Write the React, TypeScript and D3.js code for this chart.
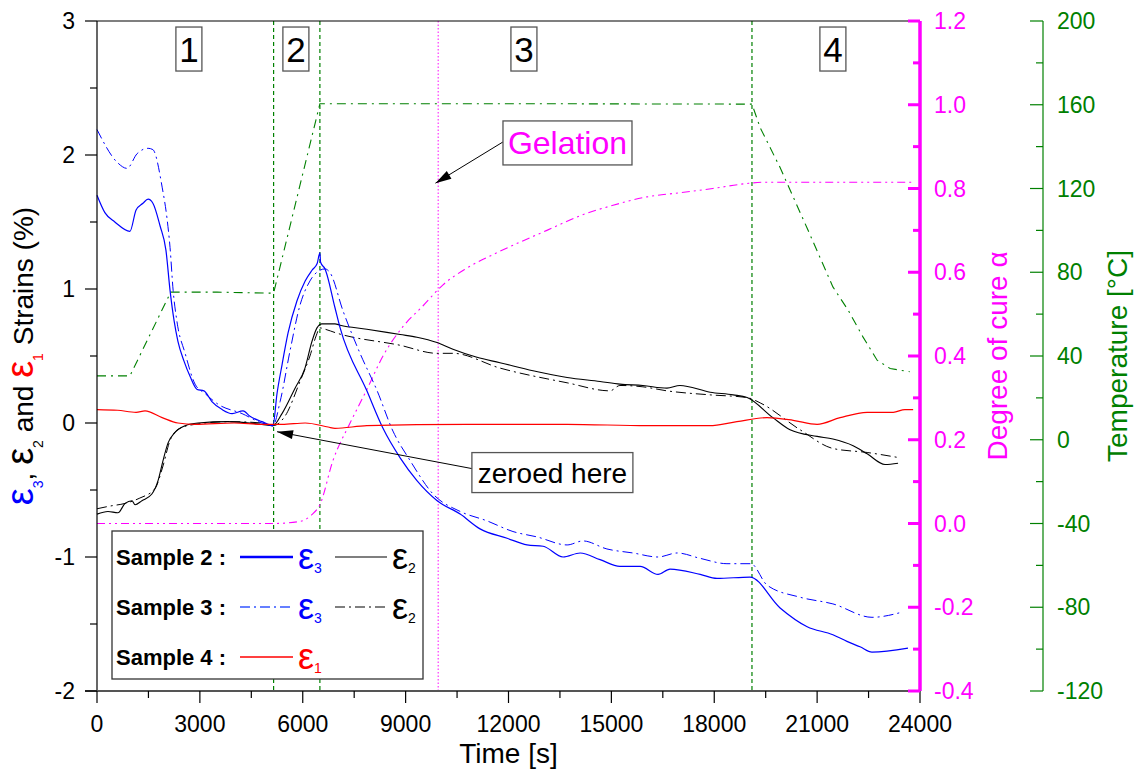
import React from 'react';
import * as d3 from 'd3';

type P = [number, number];

// ---------- ticks ----------
const timeTicks = [0, 3000, 6000, 9000, 12000, 15000, 18000, 21000, 24000];
const strainTicks = [-2, -1, 0, 1, 2, 3];
const cureTicks = [-0.4, -0.2, 0.0, 0.2, 0.4, 0.6, 0.8, 1.0, 1.2];
const tempTicks = [-120, -80, -40, 0, 40, 80, 120, 160, 200];

// ---------- data (time [s], value) ----------
const s2eps3: P[] = [
  [0, 1.70], [230, 1.57], [520, 1.50], [960, 1.43], [1140, 1.59], [1340, 1.64], [1490, 1.67],
  [1630, 1.64], [1840, 1.47], [2010, 1.29], [2130, 0.99], [2250, 0.76], [2360, 0.61], [2540, 0.46],
  [2710, 0.35], [2920, 0.25], [3120, 0.24], [3350, 0.16], [3650, 0.10], [3940, 0.07], [4260, 0.09],
  [4460, 0.05], [4810, 0.01], [5130, -0.02], [5250, 0.22], [5400, 0.44], [5570, 0.67], [5830, 0.91],
  [6070, 1.06], [6270, 1.14], [6420, 1.19], [6500, 1.27], [6520, 1.20], [6650, 1.15], [6940, 0.86],
  [7090, 0.71], [7870, 0.24], [8340, -0.04], [8840, -0.26], [9330, -0.43], [9920, -0.58],
  [10590, -0.68], [11170, -0.79], [11960, -0.86], [12540, -0.91], [13010, -0.92], [13590, -1.00],
  [14090, -0.97], [14670, -1.02], [15250, -1.07], [15840, -1.07], [16360, -1.13], [16710, -1.09],
  [17590, -1.13], [18080, -1.16], [19040, -1.15], [19920, -1.38], [20710, -1.52], [21460, -1.58],
  [21870, -1.63], [22250, -1.67], [22600, -1.71], [23650, -1.68],
];
const s3eps3: P[] = [
  [0, 2.19], [610, 1.94], [875, 1.90], [1170, 2.01], [1490, 2.05], [1630, 2.04], [1900, 1.76],
  [2040, 1.53], [2130, 1.31], [2220, 0.99], [2330, 0.76], [2570, 0.52], [2860, 0.29], [3150, 0.22],
  [3530, 0.14], [4230, 0.07], [4810, 0.00], [5130, -0.02], [5340, 0.16], [5630, 0.54], [5920, 0.88],
  [6210, 1.06], [6500, 1.14], [6650, 1.15], [6800, 1.12], [7170, 0.84], [7670, 0.52], [8170, 0.24],
  [8630, -0.06], [9130, -0.28], [9800, -0.53], [10590, -0.66], [11370, -0.73], [12130, -0.81],
  [12830, -0.85], [13710, -0.91], [14170, -0.88], [14870, -0.94], [15630, -0.97], [16360, -1.00],
  [16920, -0.97], [17590, -1.01], [18370, -1.05], [19070, -1.05], [19540, -1.21], [20500, -1.30],
  [21460, -1.35], [22600, -1.45], [23500, -1.41],
];
const s2eps2: P[] = [
  [0, -0.68], [320, -0.66], [610, -0.67], [820, -0.60], [1020, -0.58], [1110, -0.61], [1310, -0.58],
  [1600, -0.53], [1780, -0.43], [1925, -0.28], [2070, -0.15], [2275, -0.07], [2570, -0.02],
  [2945, 0.00], [3820, 0.01], [4810, -0.01], [5130, -0.02], [5395, 0.07], [5775, 0.26], [6065, 0.41],
  [6270, 0.61], [6415, 0.71], [6560, 0.74], [6940, 0.74], [7090, 0.73], [7870, 0.70], [8840, 0.66],
  [9330, 0.64], [9915, 0.60], [10380, 0.55], [11080, 0.49], [11750, 0.45], [12715, 0.39],
  [13710, 0.34], [14670, 0.31], [15250, 0.29], [15920, 0.28], [16620, 0.26], [17000, 0.28],
  [17880, 0.23], [18550, 0.21], [18960, 0.19], [19710, 0.04], [20210, -0.05], [21000, -0.10],
  [21460, -0.12], [22050, -0.17], [22460, -0.23], [22980, -0.31], [23360, -0.30],
];
const s3eps2: P[] = [
  [0, -0.64], [380, -0.62], [820, -0.60], [1250, -0.56], [1690, -0.49], [1925, -0.32], [2130, -0.13],
  [2420, -0.04], [2860, -0.01], [3880, 0.01], [4810, 0.00], [5130, -0.02], [5480, 0.05], [5920, 0.31],
  [6210, 0.50], [6390, 0.65], [6500, 0.71], [6650, 0.70], [7000, 0.67], [8840, 0.58], [9915, 0.52],
  [10380, 0.52], [11750, 0.41], [13710, 0.30], [14960, 0.24], [15250, 0.28], [15920, 0.27],
  [16620, 0.24], [17880, 0.21], [18960, 0.19], [19340, 0.15], [20500, -0.05], [21460, -0.19],
  [22460, -0.22], [23420, -0.26],
];
const s4eps1: P[] = [
  [0, 0.10], [600, 0.095], [1140, 0.08], [1400, 0.09], [1900, 0.04], [2360, 0.00], [2860, -0.01],
  [4000, 0.00], [4810, -0.01], [5400, -0.01], [6070, 0.00], [6740, -0.03], [6940, -0.04],
  [7870, -0.02], [10790, -0.01], [13710, -0.01], [16040, -0.02], [17860, -0.02], [18660, 0.01],
  [19540, 0.04], [20300, 0.02], [21000, -0.01], [21670, 0.04], [22460, 0.08], [23220, 0.08],
  [23560, 0.10], [23800, 0.10],
];
const temperature: P[] = [
  [0, 30.5], [960, 30.5], [2150, 70.5], [3500, 70.5], [5150, 70], [6500, 160.5], [12000, 160.5],
  [19100, 160.3], [19340, 149], [19920, 130], [20710, 101], [21460, 73], [21900, 62], [22340, 49],
  [22750, 38], [23130, 34], [23700, 32.5],
];
const cure: P[] = [
  [0, 0.0], [5130, 0.0], [5920, 0.005], [6250, 0.02], [6500, 0.045], [6880, 0.15], [7380, 0.24],
  [7870, 0.32], [8340, 0.40], [8920, 0.47], [9510, 0.52], [10090, 0.57], [10790, 0.61],
  [11750, 0.65], [13120, 0.70], [14090, 0.735], [15050, 0.76], [16040, 0.78], [17000, 0.79],
  [17960, 0.80], [18960, 0.812], [19500, 0.815], [23800, 0.815],
];

const phaseLines = [5150, 6500, 19100];
const gelationTime = 9950;
const phaseLabels = [
  { label: '1', t: 2680 },
  { label: '2', t: 5800 },
  { label: '3', t: 12450 },
  { label: '4', t: 21460 },
];

// ---------- layout ----------
const W = 1134, H = 772;
const left = 97, right = 920, top = 21, bottom = 691;
const tempAxisX = 1043;
const FONT = 'Liberation Sans, Arial, sans-serif';
const BLUE = '#0000ff', RED = '#ff0000', MAG = '#ff00ff', GREEN = '#008000';

export default function App() {
  const x = d3.scaleLinear().domain([0, 24000]).range([left, right]);
  const yL = d3.scaleLinear().domain([-2, 3]).range([bottom, top]);
  const yA = d3.scaleLinear().domain([-0.4, 1.2]).range([bottom, top]);
  const yT = d3.scaleLinear().domain([-120, 200]).range([bottom, top]);

  const lineL = d3.line<P>().x(d => x(d[0])).y(d => yL(d[1])).curve(d3.curveMonotoneX);
  const lineA = d3.line<P>().x(d => x(d[0])).y(d => yA(d[1])).curve(d3.curveMonotoneX);
  const lineT = d3.line<P>().x(d => x(d[0])).y(d => yT(d[1])).curve(d3.curveLinear);

  const minorTime = d3.range(0, 24001, 1500).filter(v => v % 3000 !== 0);
  const minorStrain = d3.range(-1.5, 3, 1);
  const minorCure = d3.range(-0.3, 1.2, 0.2);
  const minorTemp = d3.range(-100, 200, 40);

  const dashDot = '10,4,2,4';

  // annotations
  const gelBox = { cx: x(13720), cy: yL(2.09), w: 129, h: 44 };
  const gelTip: P = [x(9870), yL(1.79)];
  const zeroBox = { cx: x(13280), cy: yL(-0.37), w: 161, h: 40 };
  const zeroTip: P = [x(5250), yL(-0.065)];

  const arrowHead = (from: P, to: P, len: number, wid: number) => {
    const dx = to[0] - from[0], dy = to[1] - from[1];
    const L = Math.hypot(dx, dy);
    const ux = dx / L, uy = dy / L;
    const bx = to[0] - ux * len, by = to[1] - uy * len;
    return `M${to[0]},${to[1]}L${bx - uy * wid / 2},${by + ux * wid / 2}L${bx + uy * wid / 2},${by - ux * wid / 2}Z`;
  };
  const gelFrom: P = [gelBox.cx - gelBox.w / 2, gelBox.cy - 1];
  const zeroFrom: P = [zeroBox.cx - zeroBox.w / 2, zeroBox.cy - 4];

  // legend
  const lg = { x: 112, y: 531, w: 311, h: 148 };
  const rows = [557, 607, 657];

  return (
    <svg width={W} height={H} style={{ position: 'absolute', left: 0, top: 0, background: '#fff' }} fontFamily={FONT}>
      <rect x={0} y={0} width={W} height={H} fill="#fff" />

      {/* phase lines */}
      {phaseLines.map((t, i) => (
        <line key={i} x1={x(t)} x2={x(t)} y1={top} y2={bottom} stroke={GREEN} strokeWidth={1.2} strokeDasharray="4,3" />
      ))}
      <line x1={x(gelationTime)} x2={x(gelationTime)} y1={top} y2={bottom} stroke={MAG} strokeWidth={1.2} strokeDasharray="1.5,2" opacity={0.8} />

      {/* curves */}
      <path d={lineT(temperature) || ''} fill="none" stroke={GREEN} strokeWidth={1.1} strokeDasharray="9,5,2,5" />
      <path d={lineA(cure) || ''} fill="none" stroke={MAG} strokeWidth={1.1} strokeDasharray="8,4,2,4,2,4" />
      <path d={lineL(s3eps2) || ''} fill="none" stroke="#000" strokeWidth={1} strokeDasharray={dashDot} />
      <path d={lineL(s2eps2) || ''} fill="none" stroke="#000" strokeWidth={1.1} />
      <path d={lineL(s3eps3) || ''} fill="none" stroke={BLUE} strokeWidth={1} strokeDasharray={dashDot} />
      <path d={lineL(s2eps3) || ''} fill="none" stroke={BLUE} strokeWidth={1.2} />
      <path d={lineL(s4eps1) || ''} fill="none" stroke={RED} strokeWidth={1.2} />

      {/* phase labels */}
      {phaseLabels.map(p => (
        <g key={p.label}>
          <rect x={x(p.t) - 13} y={yL(2.955)} width={26} height={44} fill="#fff" stroke="#555" strokeWidth={1.3} />
          <text x={x(p.t)} y={yL(2.955) + 35} textAnchor="middle" fontSize={35} fill="#000">{p.label}</text>
        </g>
      ))}

      {/* Gelation annotation */}
      <line x1={gelFrom[0]} y1={gelFrom[1]} x2={gelTip[0]} y2={gelTip[1]} stroke="#000" strokeWidth={1} />
      <path d={arrowHead(gelFrom, gelTip, 16, 9)} fill="#000" />
      <rect x={gelBox.cx - gelBox.w / 2} y={gelBox.cy - gelBox.h / 2} width={gelBox.w} height={gelBox.h} fill="#fff" stroke="#555" strokeWidth={1.3} />
      <text x={gelBox.cx} y={gelBox.cy + 11} textAnchor="middle" fontSize={32} fill={MAG}>Gelation</text>

      {/* zeroed here annotation */}
      <line x1={zeroFrom[0]} y1={zeroFrom[1]} x2={zeroTip[0]} y2={zeroTip[1]} stroke="#000" strokeWidth={1} />
      <path d={arrowHead(zeroFrom, zeroTip, 16, 9)} fill="#000" />
      <rect x={zeroBox.cx - zeroBox.w / 2} y={zeroBox.cy - zeroBox.h / 2} width={zeroBox.w} height={zeroBox.h} fill="#fff" stroke="#555" strokeWidth={1.3} />
      <text x={zeroBox.cx} y={zeroBox.cy + 10} textAnchor="middle" fontSize={28} fill="#000">zeroed here</text>

      {/* frame: top, left axis, bottom axis */}
      <line x1={left} x2={right} y1={top} y2={top} stroke="#000" strokeWidth={1.2} />
      <line x1={left} x2={left} y1={top} y2={bottom} stroke="#000" strokeWidth={1.2} />
      <line x1={left - 12} x2={right} y1={bottom} y2={bottom} stroke="#555" strokeWidth={2} />

      {/* left axis ticks */}
      {strainTicks.map(v => (
        <g key={v}>
          <line x1={left - 12} x2={left} y1={yL(v)} y2={yL(v)} stroke="#000" strokeWidth={1.2} />
          <text x={left - 22} y={yL(v) + 8} textAnchor="end" fontSize={23}>{v}</text>
        </g>
      ))}
      {minorStrain.map(v => (
        <line key={v} x1={left - 7} x2={left} y1={yL(v)} y2={yL(v)} stroke="#000" strokeWidth={1.2} />
      ))}

      {/* bottom axis ticks */}
      {timeTicks.map(v => (
        <g key={v}>
          <line x1={x(v)} x2={x(v)} y1={bottom} y2={bottom + 12} stroke="#000" strokeWidth={1.2} />
          <text x={x(v)} y={bottom + 41} textAnchor="middle" fontSize={23}>{v}</text>
        </g>
      ))}
      {minorTime.map(v => (
        <line key={v} x1={x(v)} x2={x(v)} y1={bottom} y2={bottom + 7} stroke="#000" strokeWidth={1.2} />
      ))}
      <text x={(left + right) / 2} y={763} textAnchor="middle" fontSize={28}>Time [s]</text>

      {/* cure axis */}
      <line x1={right} x2={right} y1={top} y2={bottom} stroke={MAG} strokeWidth={3.5} />
      {cureTicks.map(v => (
        <g key={v}>
          <line x1={right - 12} x2={right} y1={yA(v)} y2={yA(v)} stroke={MAG} strokeWidth={3} />
          <text x={934} y={yA(v) + 8} fontSize={23} fill={MAG}>{v.toFixed(1)}</text>
        </g>
      ))}
      {minorCure.map(v => (
        <line key={v} x1={right - 7} x2={right} y1={yA(v)} y2={yA(v)} stroke={MAG} strokeWidth={3} />
      ))}
      <text transform={`translate(1007,${(top + bottom) / 2}) rotate(-90)`} textAnchor="middle" fontSize={28} fill={MAG}>Degree of cure α</text>

      {/* temperature axis */}
      <line x1={tempAxisX} x2={tempAxisX} y1={top} y2={bottom} stroke={GREEN} strokeWidth={1.2} />
      {tempTicks.map(v => (
        <g key={v}>
          <line x1={tempAxisX - 13} x2={tempAxisX} y1={yT(v)} y2={yT(v)} stroke={GREEN} strokeWidth={1.2} />
          <text x={1057} y={yT(v) + 8} fontSize={23} fill={GREEN}>{v}</text>
        </g>
      ))}
      {minorTemp.map(v => (
        <line key={v} x1={tempAxisX - 7} x2={tempAxisX} y1={yT(v)} y2={yT(v)} stroke={GREEN} strokeWidth={1.2} />
      ))}
      <text transform={`translate(1127,${(top + bottom) / 2}) rotate(-90)`} textAnchor="middle" fontSize={28} fill={GREEN}>Temperature [°C]</text>

      {/* left axis title */}
      <text transform={`translate(33,${(top + bottom) / 2}) rotate(-90)`} textAnchor="middle" fontSize={28}>
        <tspan fill={BLUE} fontSize={38}>ε</tspan>
        <tspan fill={BLUE} fontSize={14} dy={10}>3</tspan>
        <tspan dy={-10}>, </tspan>
        <tspan fontSize={38}>ε</tspan>
        <tspan fontSize={14} dy={10}>2</tspan>
        <tspan dy={-10}> and </tspan>
        <tspan fill={RED} fontSize={38}>ε</tspan>
        <tspan fill={RED} fontSize={14} dy={10}>1</tspan>
        <tspan dy={-10}> Strains (%)</tspan>
      </text>

      {/* legend */}
      <rect x={lg.x} y={lg.y} width={lg.w} height={lg.h} fill="#fff" stroke="#333" strokeWidth={1.3} />
      {['Sample 2 :', 'Sample 3 :', 'Sample 4 :'].map((s, i) => (
        <text key={s} x={116} y={rows[i] + 8} fontSize={22} fontWeight="bold">{s}</text>
      ))}
      <line x1={240} x2={293} y1={rows[0]} y2={rows[0]} stroke={BLUE} strokeWidth={2.6} />
      <line x1={335} x2={387} y1={rows[0]} y2={rows[0]} stroke="#555" strokeWidth={1.6} />
      <line x1={240} x2={293} y1={rows[1]} y2={rows[1]} stroke="#3355ff" strokeWidth={1.3} strokeDasharray={dashDot} />
      <line x1={335} x2={387} y1={rows[1]} y2={rows[1]} stroke="#555" strokeWidth={1.3} strokeDasharray={dashDot} />
      <line x1={240} x2={293} y1={rows[2]} y2={rows[2]} stroke={RED} strokeWidth={1.3} />
      {[
        { xx: 298, row: 0, sub: '3', c: BLUE },
        { xx: 392, row: 0, sub: '2', c: '#000' },
        { xx: 298, row: 1, sub: '3', c: BLUE },
        { xx: 392, row: 1, sub: '2', c: '#000' },
        { xx: 298, row: 2, sub: '1', c: RED },
      ].map((e, i) => (
        <text key={i} x={e.xx} y={rows[e.row] + 12} fontSize={36} fill={e.c}>
          ε<tspan fontSize={14} dy={4}>{e.sub}</tspan>
        </text>
      ))}
    </svg>
  );
}
